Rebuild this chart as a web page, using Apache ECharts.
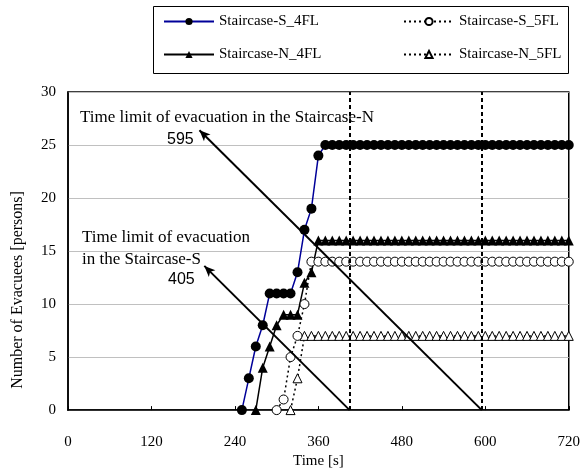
<!DOCTYPE html>
<html>
<head>
<meta charset="utf-8">
<script src="https://cdn.jsdelivr.net/npm/echarts@6/dist/echarts.min.js"></script>
<style>html,body{margin:0;padding:0;background:#fff}#c{width:583px;height:474px}</style>
</head>
<body>
<div id="c"></div>
<script>
// time stamps [s]
const times = [250,260,270,280,290,300,310,320,330,340,350,360,370,380,390,400,410,420,430,440,450,460,470,480,490,500,510,520,530,540,550,560,570,580,590,600,610,620,630,640,650,660,670,680,690,700,710,720];
// Evacuees per series (null = not yet started)
const sS4 = [0,3,6,8,11,11,11,11,13,17,19,24,25,25,25,25,25,25,25,25,25,25,25,25,25,25,25,25,25,25,25,25,25,25,25,25,25,25,25,25,25,25,25,25,25,25,25,25];
const sS5 = [null,null,null,null,null,0,1,5,7,10,14,14,14,14,14,14,14,14,14,14,14,14,14,14,14,14,14,14,14,14,14,14,14,14,14,14,14,14,14,14,14,14,14,14,14,14,14,14];
const sN4 = [null,null,0,4,6,8,9,9,9,12,13,16,16,16,16,16,16,16,16,16,16,16,16,16,16,16,16,16,16,16,16,16,16,16,16,16,16,16,16,16,16,16,16,16,16,16,16,16];
const sN5 = [null,null,null,null,null,null,null,0,3,7,7,7,7,7,7,7,7,7,7,7,7,7,7,7,7,7,7,7,7,7,7,7,7,7,7,7,7,7,7,7,7,7,7,7,7,7,7,7];
const seriesNames = ['Staircase-S_4FL','Staircase-S_5FL','Staircase-N_4FL','Staircase-N_5FL'];
const xTicks = [0,120,240,360,480,600,720];
const yTicks = [0,5,10,15,20,25,30];
// time limits [s]
const timeLimits = [405, 595];
// arrow heads (time, persons)
const arrowN = [[595,0],[189,26.4]];
const arrowS = [[405,0],[196,13.6]];

function pairs(vals){
  const out=[];
  for(let i=0;i<times.length;i++){ if(vals[i]!==null) out.push([times[i], vals[i]]); }
  return out;
}
const serif = 'Liberation Serif';
const chart = echarts.init(document.getElementById('c'));
chart.setOption({
  animation:false,
  backgroundColor:'#fff',
  grid:{left:68,right:14,top:92,bottom:62,show:true,borderColor:'#000',borderWidth:1.5,backgroundColor:'transparent'},
  legend:[
    {left:158,top:9,orient:'vertical',itemGap:18,itemWidth:50,itemHeight:9,
     data:[seriesNames[0],seriesNames[2]],textStyle:{fontFamily:serif,fontSize:15,color:'#000'}},
    {left:398,top:9,orient:'vertical',itemGap:18,itemWidth:50,itemHeight:9,
     data:[seriesNames[1],seriesNames[3]],textStyle:{fontFamily:serif,fontSize:15,color:'#000'}}
  ],
  xAxis:{type:'value',min:xTicks[0],max:xTicks[xTicks.length-1],interval:120,
    axisLine:{lineStyle:{color:'#000',width:1.5}},
    axisTick:{inside:true,length:4,lineStyle:{color:'#000'}},
    splitLine:{show:false},
    axisLabel:{fontFamily:serif,fontSize:15,color:'#000',margin:24},
    name:'Time [s]',nameLocation:'middle',nameGap:41,
    nameTextStyle:{fontFamily:serif,fontSize:15,color:'#000'}},
  yAxis:{type:'value',min:yTicks[0],max:yTicks[yTicks.length-1],interval:5,
    axisLine:{show:true,lineStyle:{color:'#000',width:1.5}},
    axisTick:{show:false},
    splitLine:{lineStyle:{color:'#c0c0c0',width:1}},
    axisLabel:{fontFamily:serif,fontSize:15,color:'#000',margin:12}},
  series:[
    {name:seriesNames[0],type:'line',data:pairs(sS4),symbol:'circle',symbolSize:10,
     lineStyle:{color:'#000099',width:1.5},itemStyle:{color:'#000'},z:5,
     markLine:{silent:true,symbol:['none','none'],label:{show:false},
       lineStyle:{color:'#000',type:[4,3],width:2},
       data:timeLimits.map(t=>({xAxis:t}))}},
    {name:seriesNames[1],type:'line',data:pairs(sS5),symbol:'circle',symbolSize:9,
     lineStyle:{color:'#000',width:1.5,type:[2,3]},itemStyle:{color:'#fff',borderColor:'#000',borderWidth:1},z:4},
    {name:seriesNames[2],type:'line',data:pairs(sN4),symbol:'triangle',symbolSize:10,
     lineStyle:{color:'#000',width:1.5},itemStyle:{color:'#000'},z:4,
     markLine:{silent:true,symbol:['none','arrow'],symbolSize:[7,11],label:{show:false},
       lineStyle:{color:'#000',type:'solid',width:2},
       data:[[{coord:arrowN[0]},{coord:arrowN[1]}],[{coord:arrowS[0]},{coord:arrowS[1]}]]}},
    {name:seriesNames[3],type:'line',data:pairs(sN5),symbol:'triangle',symbolSize:9,
     lineStyle:{color:'#000',width:1.5,type:[2,3]},itemStyle:{color:'#fff',borderColor:'#000',borderWidth:1},z:3}
  ],
  graphic:[
    {type:'rect',left:151,top:4,shape:{width:415,height:67},style:{fill:'none',stroke:'#000',lineWidth:1},silent:true},
    {type:'text',x:18,y:290,rotation:Math.PI/2,
     style:{text:'Number of Evacuees [persons]',font:'16px "Liberation Serif"',fill:'#000',align:'center',verticalAlign:'middle'}},
    {type:'text',left:80,top:109,style:{text:'Time limit of evacuation in the Staircase-N',font:'17px "Liberation Serif"',fill:'#000'}},
    {type:'text',left:167,top:132,style:{text:'595',font:'16px "Liberation Sans"',fill:'#000'}},
    {type:'text',left:82,top:229,style:{text:'Time limit of evacuation',font:'17px "Liberation Serif"',fill:'#000'}},
    {type:'text',left:82,top:251,style:{text:'in the Staircase-S',font:'17px "Liberation Serif"',fill:'#000'}},
    {type:'text',left:168,top:272,style:{text:'405',font:'16px "Liberation Sans"',fill:'#000'}}
  ]
});
</script>
</body>
</html>
